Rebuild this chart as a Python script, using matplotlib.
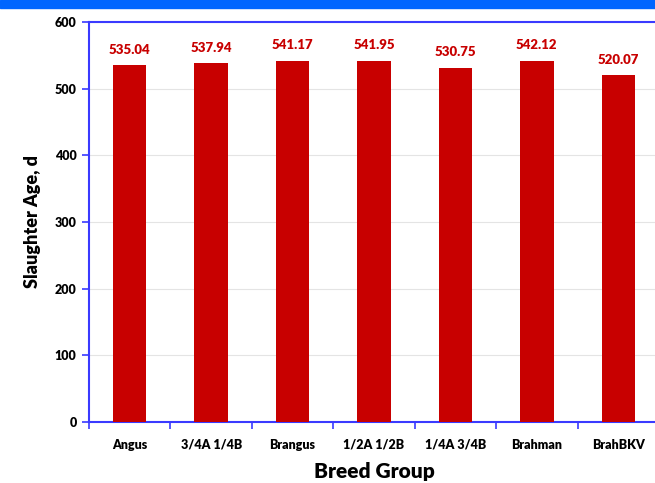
import numpy as np
import matplotlib.pyplot as plt
from matplotlib.patches import Rectangle

plt.rcParams['font.family'] = ['Lato', 'DejaVu Sans']

breeds = ["Angus", "3/4A 1/4B", "Brangus", "1/2A 1/2B", "1/4A 3/4B", "Brahman", "BrahBKV"]
slaughter_age = [535.04, 537.94, 541.17, 541.95, 530.75, 542.12, 520.07]
yticks = [0, 100, 200, 300, 400, 500, 600]

BAR_RED = "#C80000"
SPINE_BLUE = "#3a3aff"

fig = plt.figure(figsize=(6.55, 4.83), dpi=100)
# blue band across the top of the slide
fig.patches.append(Rectangle((0, 1 - 8 / 483), 1, 8 / 483, transform=fig.transFigure,
                             color="#0066ff", zorder=0))

ax = fig.add_axes([89 / 655, 61 / 483, 570 / 655, 400 / 483])
x = np.arange(len(breeds))
ax.bar(x, slaughter_age, width=0.41, color=BAR_RED, zorder=3)

for xi, v in zip(x, slaughter_age):
    ax.annotate(f"{v:.2f}", (xi, v), xytext=(0, 7), textcoords="offset points",
                ha="center", va="bottom", color=BAR_RED, fontsize=9.5, fontweight="heavy")

ax.set_xlim(-0.5, len(breeds) - 0.5)
ax.set_ylim(0, 600)
ax.set_yticks(yticks)
ax.set_xticks(x)
ax.set_xticklabels(breeds, fontsize=9, fontweight="heavy")
ax.set_xticks(np.arange(len(breeds) + 1) - 0.5, minor=True)
ax.tick_params(axis="x", which="major", length=0, pad=12)
ax.tick_params(axis="x", which="minor", length=5, color=SPINE_BLUE, width=1.2)
ax.tick_params(axis="y", length=5, color=SPINE_BLUE, width=1.2, labelsize=9, pad=4)
for lab in ax.get_yticklabels():
    lab.set_fontweight("heavy")

ax.grid(axis="y", color="#e4e4e4", linewidth=0.8, zorder=0)
for side in ["left", "bottom", "top"]:
    ax.spines[side].set_color(SPINE_BLUE)
    ax.spines[side].set_linewidth(1.5)
ax.spines["right"].set_visible(False)

ax.set_ylabel("Slaughter Age, d", fontsize=13, fontweight="heavy", labelpad=10)
ax.set_xlabel("Breed Group", fontsize=15, fontweight="heavy", labelpad=8)

fig.savefig("out.png", dpi=100)
